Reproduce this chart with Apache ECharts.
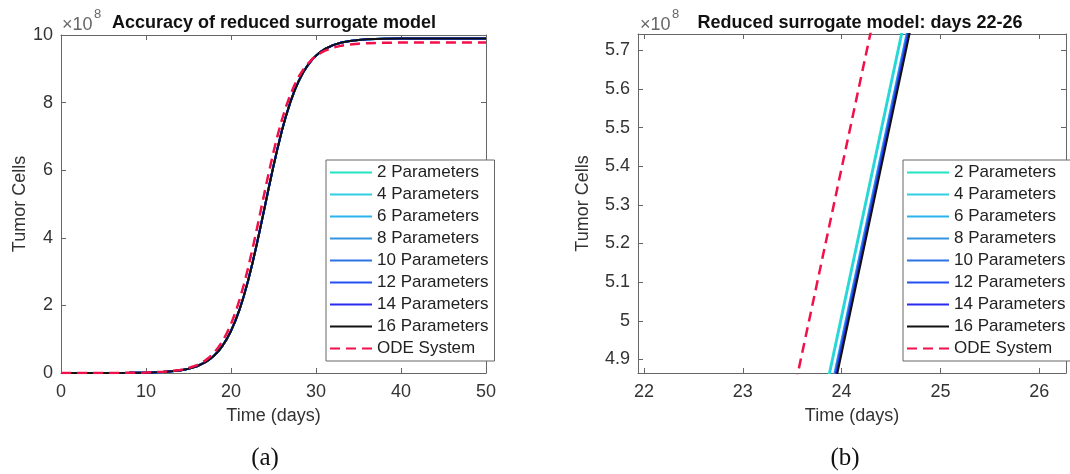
<!DOCTYPE html>
<html>
<head>
<meta charset="utf-8">
<script src="https://cdn.jsdelivr.net/npm/echarts@6/dist/echarts.min.js"></script>
<style>
html, body { margin: 0; padding: 0; background: #fff; }
#main { width: 1070px; height: 474px; }
</style>
</head>
<body>
<div id="main"></div>
<script>
// values in units of 1e8 tumor cells
var fullDays = [0, 2, 4, 6, 8, 10, 12, 14, 15, 16, 17, 17.5, 18, 18.5, 19, 19.5, 20, 20.5, 21, 21.5, 22, 22.5, 23, 23.5, 24, 24.5, 25, 25.5, 26, 26.5, 27, 27.5, 28, 28.5, 29, 29.5, 30, 30.5, 31, 32, 33, 34, 35, 36, 38, 40, 45, 50];
var surrogateFull = [0.0001, 0.0002, 0.0006, 0.0016, 0.0042, 0.011, 0.029, 0.077, 0.124, 0.200, 0.322, 0.406, 0.511, 0.643, 0.805, 1.003, 1.244, 1.532, 1.873, 2.270, 2.721, 3.225, 3.773, 4.353, 4.95, 5.547, 6.127, 6.675, 7.179, 7.630, 8.027, 8.368, 8.656, 8.897, 9.095, 9.257, 9.389, 9.494, 9.578, 9.700, 9.776, 9.823, 9.852, 9.871, 9.889, 9.896, 9.9, 9.9];
var odeFull = [0.0001, 0.0003, 0.0007, 0.0018, 0.0048, 0.0126, 0.034, 0.089, 0.145, 0.234, 0.376, 0.475, 0.599, 0.753, 0.942, 1.172, 1.449, 1.778, 2.163, 2.603, 3.097, 3.637, 4.212, 4.807, 5.403, 5.986, 6.537, 7.045, 7.500, 7.900, 8.246, 8.536, 8.779, 8.978, 9.141, 9.273, 9.379, 9.463, 9.530, 9.625, 9.685, 9.721, 9.744, 9.758, 9.772, 9.777, 9.78, 9.78];

// zoomed view, days 22-26
var zoomDays = [23.5, 24.0, 24.5, 25.0];
var zoomP2 = [4.417, 5.018, 5.620, 6.221];
var zoomP4 = [4.405, 5.006, 5.608, 6.209];
var zoomP6 = [4.351, 4.952, 5.554, 6.155];
var zoomP8 = [4.345, 4.946, 5.548, 6.149];
var zoomP10 = [4.339, 4.940, 5.542, 6.143];
var zoomP12 = [4.333, 4.934, 5.536, 6.137];
var zoomP14 = [4.327, 4.928, 5.530, 6.131];
var zoomP16 = [4.315, 4.916, 5.518, 6.119];
var zoomOde = [4.796, 5.395, 5.993, 6.592];

var names = ['2 Parameters', '4 Parameters', '6 Parameters', '8 Parameters', '10 Parameters', '12 Parameters', '14 Parameters', '16 Parameters', 'ODE System'];
var zoomSets = [zoomP2, zoomP4, zoomP6, zoomP8, zoomP10, zoomP12, zoomP14, zoomP16];

var colors = ['#22e3c4', '#2fd0e6', '#2bb3ee', '#3494e0', '#2e72e6', '#2552ee', '#2a2af0', '#111111', '#f0104a'];
var font = '"Liberation Sans", Arial, sans-serif';
var axisColor = '#666';

var myChart = echarts.init(document.getElementById('main'));

function pairs(xs, ys) {
  return xs.map(function (x, i) { return [x, ys[i]]; });
}

function xAx(grid, pos, min, max, extra) {
  var a = {
    gridIndex: grid, type: 'value', position: pos, min: min, max: max,
    axisLine: { show: true, onZero: false, lineStyle: { color: axisColor, width: 1 } },
    axisTick: { show: true, inside: true, length: 5, lineStyle: { color: axisColor } },
    axisLabel: { show: pos === 'bottom', fontSize: 18, color: '#333', fontFamily: font, margin: 10, showMinLabel: false, showMaxLabel: false },
    splitLine: { show: false }
  };
  return Object.assign(a, extra || {});
}
function yAx(grid, pos, min, max, extra) {
  var a = {
    gridIndex: grid, type: 'value', position: pos, min: min, max: max,
    axisLine: { show: true, onZero: false, lineStyle: { color: axisColor, width: 1 } },
    axisTick: { show: true, inside: true, length: 5, lineStyle: { color: axisColor } },
    axisLabel: { show: pos === 'left', fontSize: 18, color: '#333', fontFamily: font, margin: 8, showMinLabel: false, showMaxLabel: false },
    splitLine: { show: false }
  };
  return Object.assign(a, extra || {});
}

var nameStyle = { fontSize: 18, color: '#333', fontFamily: font };

var series = [];
// left: full time course (the surrogate curves coincide at this scale)
names.forEach(function (n, i) {
  var isOde = i === 8;
  series.push({
    type: 'line', name: n, xAxisIndex: 0, yAxisIndex: 0,
    data: pairs(fullDays, isOde ? odeFull : surrogateFull),
    symbol: 'none',
    lineStyle: { color: colors[i], width: isOde ? 2.5 : 2, type: isOde ? [10, 6] : 'solid' },
    itemStyle: { color: colors[i] }
  });
});
// right: zoom on days 22-26
names.forEach(function (n, i) {
  var isOde = i === 8;
  series.push({
    type: 'line', name: n, xAxisIndex: 2, yAxisIndex: 2,
    data: pairs(zoomDays, isOde ? zoomOde : zoomSets[i]),
    symbol: 'none',
    lineStyle: { color: colors[i], width: isOde ? 2.5 : 2, type: isOde ? [10, 6] : 'solid' },
    itemStyle: { color: colors[i] }
  });
});

function legendAt(left) {
  return {
    data: names, left: left, top: 160, orient: 'vertical',
    itemWidth: 42, itemHeight: 14, itemGap: 5,
    padding: [4, 6, 4, 3],
    borderColor: axisColor, borderWidth: 1, backgroundColor: '#fff',
    selectedMode: false,
    itemStyle: { opacity: 0 },
    textStyle: { fontSize: 17, color: '#222', fontFamily: font, lineHeight: 17 }
  };
}

var option = {
  backgroundColor: '#fff',
  animation: false,
  grid: [
    { left: 61, top: 35, width: 425, height: 338 },
    { left: 638, top: 34, width: 428, height: 339 }
  ],
  xAxis: [
    xAx(0, 'bottom', 0, 50, { interval: 10, axisLabel: { fontSize: 18, color: '#333', fontFamily: font, margin: 10 }, name: 'Time (days)', nameLocation: 'middle', nameGap: 34, nameTextStyle: nameStyle }),
    xAx(0, 'top', 0, 50, { interval: 10 }),
    xAx(1, 'bottom', 21.94, 26.27, { minInterval: 1, maxInterval: 1, name: 'Time (days)', nameLocation: 'middle', nameGap: 34, nameTextStyle: nameStyle }),
    xAx(1, 'top', 21.94, 26.27, { minInterval: 1, maxInterval: 1 })
  ],
  yAxis: [
    yAx(0, 'left', 0, 10, { interval: 2, axisLabel: { fontSize: 18, color: '#333', fontFamily: font, margin: 8 }, name: 'Tumor Cells', nameLocation: 'middle', nameGap: 32, nameTextStyle: nameStyle }),
    yAx(0, 'right', 0, 10, { interval: 2 }),
    yAx(1, 'left', 4.865, 5.742, { minInterval: 0.1, maxInterval: 0.1, name: 'Tumor Cells', nameLocation: 'middle', nameGap: 46, nameTextStyle: nameStyle }),
    yAx(1, 'right', 4.865, 5.742, { minInterval: 0.1, maxInterval: 0.1 })
  ],
  legend: [legendAt(326), legendAt(903)],
  graphic: [
    { type: 'text', x: 62, y: 25, style: { text: '×10', font: '18px ' + font, fill: '#666', verticalAlign: 'middle' } },
    { type: 'text', x: 94, y: 14, style: { text: '8', font: '13px ' + font, fill: '#666', verticalAlign: 'middle' } },
    { type: 'text', x: 274, y: 23, style: { text: 'Accuracy of reduced surrogate model', font: 'bold 18px ' + font, fill: '#111', align: 'center', verticalAlign: 'middle' } },
    { type: 'text', x: 640, y: 25, style: { text: '×10', font: '18px ' + font, fill: '#666', verticalAlign: 'middle' } },
    { type: 'text', x: 672, y: 14, style: { text: '8', font: '13px ' + font, fill: '#666', verticalAlign: 'middle' } },
    { type: 'text', x: 860, y: 23, style: { text: 'Reduced surrogate model: days 22-26', font: 'bold 18px ' + font, fill: '#111', align: 'center', verticalAlign: 'middle' } },
    { type: 'text', x: 265, y: 458, style: { text: '(a)', font: '25px "Liberation Serif", serif', fill: '#111', align: 'center', verticalAlign: 'middle' } },
    { type: 'text', x: 845, y: 458, style: { text: '(b)', font: '25px "Liberation Serif", serif', fill: '#111', align: 'center', verticalAlign: 'middle' } }
  ],
  series: series
};
myChart.setOption(option);
</script>
</body>
</html>
